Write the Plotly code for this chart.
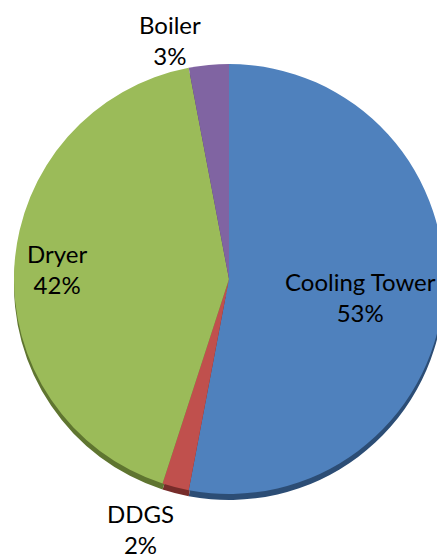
import plotly.graph_objects as go

# Dữ liệu
labels = ["Cooling Tower", "DDGS", "Dryer", "Boiler"]
values = [53, 2, 42, 3]
colors = ["#4F81BD", "#C0504D", "#9BBB59", "#8064A2"]
rim_colors = ["#2C4D75", "#772C2A", "#5F7530", "#4D3B62"]

W, H = 445, 558
R = 215
CX, CY = 221, 271


def dom(cx, cy, r):
    return dict(x=[max(0, (cx - r) / W), min(1, (cx + r) / W)],
                y=[max(0, 1 - (cy + r) / H), min(1, 1 - (cy - r) / H)])


fig = go.Figure()

# Viền 3D phía dưới
fig.add_trace(go.Pie(
    labels=labels, values=values, sort=False, direction="clockwise", rotation=0,
    marker=dict(colors=rim_colors, line=dict(width=0)),
    textinfo="none", hoverinfo="skip", showlegend=False,
    domain=dom(CX, CY + 6, R),
))

fig.add_trace(go.Pie(
    labels=labels, values=values, sort=False, direction="clockwise", rotation=0,
    marker=dict(colors=colors, line=dict(width=0)),
    textinfo="none", showlegend=False,
    domain=dom(CX, CY, R),
))

# Nhãn dữ liệu
total = sum(values)
label_pos = {
    "Cooling Tower": (352, 289),
    "DDGS": (132, 521),
    "Dryer": (49, 261),
    "Boiler": (162, 32),
}
for lab, val in zip(labels, values):
    x, y = label_pos[lab]
    fig.add_annotation(
        x=x / W, y=1 - y / H, xref="paper", yref="paper",
        xanchor="center", yanchor="middle",
        text=f"{lab}<br>{round(val / total * 100)}%",
        showarrow=False, align="center",
        font=dict(family="Lato", size=24, color="black"),
    )

fig.update_layout(
    width=W, height=H,
    margin=dict(t=0, b=0, l=0, r=0),
    paper_bgcolor="white",
    plot_bgcolor="white",
)

fig.write_html("out.html")
